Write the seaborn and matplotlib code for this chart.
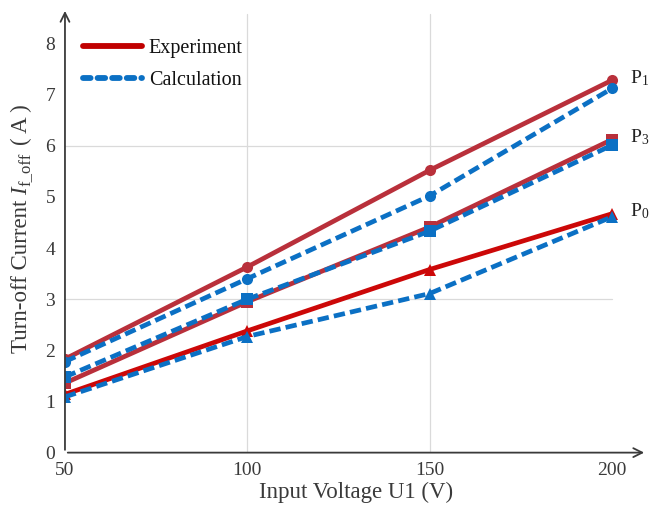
import pandas as pd
import matplotlib
matplotlib.use("Agg")
import matplotlib.pyplot as plt
import seaborn as sns
from matplotlib.lines import Line2D

voltage = [50, 100, 150, 200]

p1_exp = [1.83, 3.63, 5.52, 7.28]
p1_calc = [1.78, 3.40, 5.02, 7.12]
p3_exp = [1.36, 2.95, 4.41, 6.12]
p3_calc = [1.48, 3.00, 4.33, 6.01]
p0_exp = [1.14, 2.38, 3.58, 4.67]
p0_calc = [1.09, 2.27, 3.11, 4.61]

series_names = ["P1", "P3", "P0"]
series_labels = ["P$_1$", "P$_3$", "P$_0$"]

sns.set_style("white")
plt.rcParams["font.family"] = ["Liberation Serif", "DejaVu Sans"]
plt.rcParams["mathtext.fontset"] = "custom"
plt.rcParams["mathtext.rm"] = "Liberation Serif"
plt.rcParams["mathtext.it"] = "Liberation Serif:italic"

TXT = "#3a3a3a"
RED_DARK = "#b9303b"
RED = "#cc0808"
RED_LEG = "#c00000"
BLUE = "#0b70c4"
DASH = (0, (2.4, 1.1))

W, H = 651, 508
fig = plt.figure(figsize=(W / 100, H / 100), dpi=100)
ax = fig.add_axes([0.0998, 0.109, 0.894, 0.875])

XMIN, XMAX = 50, 209.6
YMIN, YMAX = 0, 8.69
ax.set_xlim(XMIN, XMAX)
ax.set_ylim(YMIN, YMAX)

# light grid only at a few positions
for gx in [100, 150]:
    ax.plot([gx, gx], [0, 8.57], color="#dadada", lw=0.9, zorder=0)
for gy in [3, 6]:
    ax.plot([50, 200], [gy, gy], color="#dadada", lw=0.9, zorder=0)

df = pd.DataFrame({
    "U1": voltage * 6,
    "I": p1_exp + p1_calc + p3_exp + p3_calc + p0_exp + p0_calc,
    "series": sum([[s] * 4 for s in ["P1_exp", "P1_calc", "P3_exp", "P3_calc", "P0_exp", "P0_calc"]], []),
})

styles = {
    "P1_exp": dict(color=RED_DARK, ls="-", marker="o"),
    "P1_calc": dict(color=BLUE, ls=DASH, marker="o"),
    "P3_exp": dict(color=RED_DARK, ls="-", marker="s"),
    "P3_calc": dict(color=BLUE, ls=DASH, marker="s"),
    "P0_exp": dict(color=RED, ls="-", marker="^"),
    "P0_calc": dict(color=BLUE, ls=DASH, marker="^"),
}

for name in ["P1_exp", "P3_exp", "P0_exp", "P1_calc", "P3_calc", "P0_calc"]:
    st = styles[name]
    sub = df[df["series"] == name]
    sns.lineplot(data=sub, x="U1", y="I", ax=ax, color=st["color"], linestyle=st["ls"],
                 marker=st["marker"], markersize=8, markeredgewidth=0,
                 linewidth=3.4, legend=False, zorder=3)

# curve names at the right end
ends = {"P1": p1_exp[-1], "P3": p3_exp[-1], "P0": p0_exp[-1]}
for name, lab in zip(series_names, series_labels):
    ax.text(205, ends[name] + 0.05, lab, fontsize=14, color="#222222", va="center", ha="left")

# legend
handles = [Line2D([], [], color=RED_LEG, lw=4.2, ls="-", solid_capstyle="round"),
           Line2D([], [], color=BLUE, lw=4.2, ls=(0, (1.3, 1.2)), dash_capstyle="round")]
ax.legend(handles, ["Experiment", "Calculation"], loc="upper left", frameon=False,
          fontsize=14.5, handlelength=2.9, handletextpad=0.35, labelspacing=0.65,
          borderpad=0.0, bbox_to_anchor=(0.014, 0.953), labelcolor="#111111")

# axes with arrow heads
for s in ax.spines.values():
    s.set_visible(False)
ax.annotate("", xy=(XMAX, 0), xytext=(XMIN, 0),
            arrowprops=dict(arrowstyle="->", color=TXT, lw=1.3, mutation_scale=16),
            annotation_clip=False)
ax.annotate("", xy=(XMIN, YMAX), xytext=(XMIN, 0),
            arrowprops=dict(arrowstyle="->", color=TXT, lw=1.3, mutation_scale=16),
            annotation_clip=False)

ax.set_xticks(voltage)
ax.set_yticks(range(0, 9))
ax.tick_params(axis="both", colors=TXT, labelsize=14, length=5, width=1.0, labelcolor=TXT)
ax.tick_params(axis="x", direction="inout", pad=4)
ax.tick_params(axis="y", direction="out", pad=2)

ax.set_xlabel("Input Voltage U1 (V)", fontsize=16.5, color=TXT, labelpad=2)
ax.set_ylabel("")

# y label built from rotated pieces, laid end to end (baseline at x_base px)
x_base = 27.0
y_pos = H - 353.0
pieces = [
    ("Turn-off Current", 16.5, dict(), 0.0, 4.5),
    ("I", 16.5, dict(style="italic"), 0.0, 1.5),
    ("f_off", 12, dict(), 4.0, 8.0),
    ("( A )", 16.5, dict(), 0.0, 0.0),
]
fig.canvas.draw()
renderer = fig.canvas.get_renderer()
for txt, size, kw, shift, gap in pieces:
    t = fig.text((x_base + shift) / W, y_pos / H, txt, rotation=90, rotation_mode="anchor",
                 ha="left", va="baseline", fontsize=size, color=TXT, **kw)
    bb = t.get_window_extent(renderer)
    y_pos = bb.y1 + gap

fig.savefig("out.png", dpi=100)
